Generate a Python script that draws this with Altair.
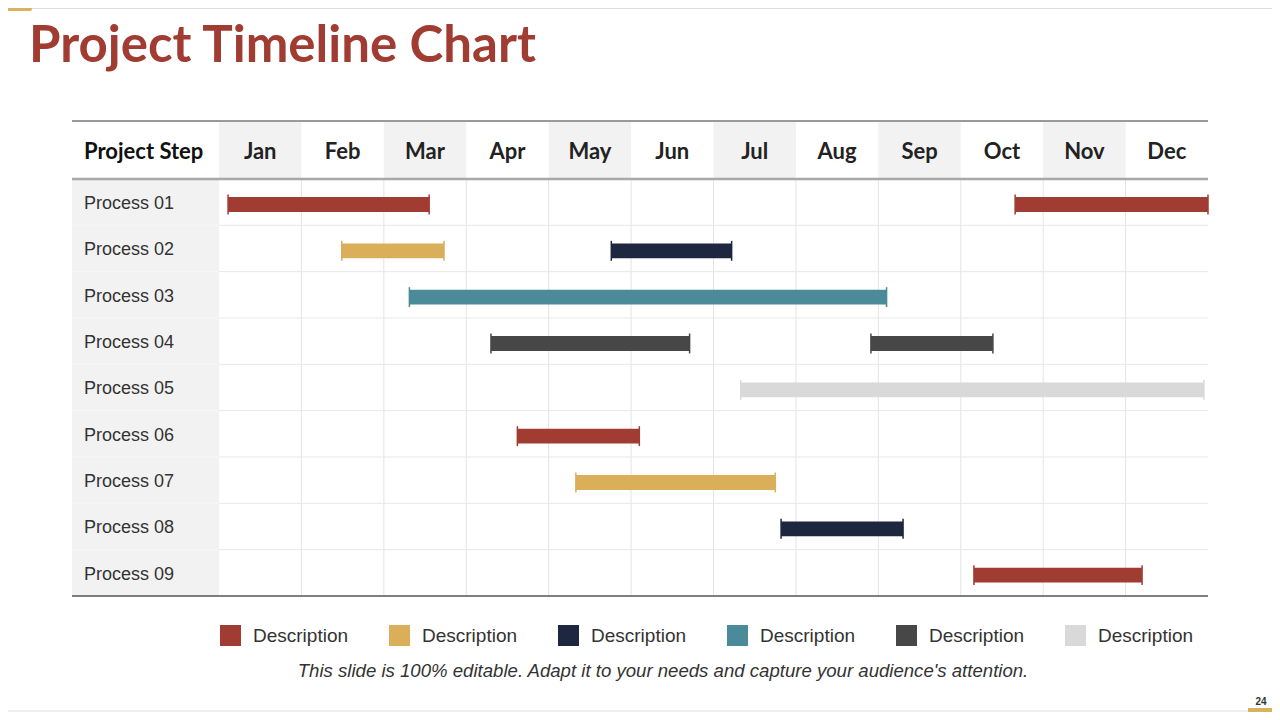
import altair as alt
import pandas as pd

# ---------------- data ----------------
months = ["Jan", "Feb", "Mar", "Apr", "May", "Jun",
          "Jul", "Aug", "Sep", "Oct", "Nov", "Dec"]
processes = ["Process 01", "Process 02", "Process 03", "Process 04", "Process 05",
             "Process 06", "Process 07", "Process 08", "Process 09"]

# task bars (month units, 0 = start of Jan, 12 = end of Dec)
task_process = [0, 0, 1, 1, 2, 3, 3, 4, 5, 6, 7, 8]
task_start = [0.11, 9.66, 1.49, 4.76, 2.31, 3.30, 7.91, 6.33, 3.62, 4.33, 6.82, 9.16]
task_end = [2.55, 12.0, 2.73, 6.22, 8.10, 5.71, 9.39, 11.95, 5.10, 6.75, 8.30, 11.20]
task_series = ["d1", "d1", "d2", "d3", "d4", "d5", "d5", "d6", "d1", "d2", "d3", "d1"]

series_keys = ["d1", "d2", "d3", "d4", "d5", "d6"]
series_labels = ["Description"] * 6
series_colors = ["#a03c31", "#dbae5a", "#1d2740", "#4b8a99", "#474747", "#d9d9d9"]

title_text = "Project Timeline Chart"
header_text = "Project Step"
caption_text = ("This slide is 100% editable. Adapt it to your needs and capture "
                "your audience's attention.")
page_number = "24"

# ---------------- layout ----------------
W, H = 1264, 704
X_DOM = [-2.5602, 12.7765]
Y_DOM = [-3.6906, 11.5036]
TABLE_LEFT = -1.784
HEADER_TOP = -1.252

xs = alt.Scale(domain=X_DOM, nice=False, zero=False)
ys = alt.Scale(domain=Y_DOM, nice=False, zero=False, reverse=True)

tasks = pd.DataFrame({
    "row": task_process,
    "start": task_start,
    "end": task_end,
    "series": task_series,
})
tasks["process"] = [processes[i] for i in task_process]
tasks["y0"] = tasks["row"] + 0.55 - 0.16
tasks["y1"] = tasks["row"] + 0.55 + 0.16
tasks["c0"] = tasks["row"] + 0.55 - 0.215
tasks["c1"] = tasks["row"] + 0.55 + 0.215

month_df = pd.DataFrame({"month": months, "i": list(range(12))})
month_df["mid"] = month_df["i"] + 0.5
month_df["x0"] = month_df["i"]
month_df["x1"] = month_df["i"] + 1
month_df["shade"] = month_df["i"] % 2 == 0

proc_df = pd.DataFrame({"process": processes, "r": list(range(len(processes)))})
proc_df["mid"] = proc_df["r"] + 0.5

X = lambda f: alt.X(f, type="quantitative", scale=xs, axis=None)
Y = lambda f: alt.Y(f, type="quantitative", scale=ys, axis=None)

one = alt.Data(values=[{"a": 0}])

# header shading (Jan, Mar, ...)
header_shade = alt.Chart(month_df).transform_filter("datum.shade").mark_rect(
    color="#f2f2f2").encode(
    x=X("x0"), x2="x1",
    y=Y("y0:Q"), y2="y1:Q",
).transform_calculate(y0=str(HEADER_TOP), y1="0")

# process column shading
proc_shade = alt.Chart(proc_df).mark_rect(color="#f2f2f2").encode(
    x=alt.X("xa:Q", scale=xs, axis=None), x2="xb:Q",
    y=Y("r"), y2="r2:Q",
).transform_calculate(xa=str(TABLE_LEFT), xb="0", r2="datum.r + 1")

# vertical grid lines (month boundaries)
vlines = alt.Chart(month_df).transform_filter("datum.i > 0").mark_rule(
    color="#e4e4e4", strokeWidth=1).encode(
    x=X("x0"), y=alt.Y("ya:Q", scale=ys, axis=None), y2="yb:Q",
).transform_calculate(ya="0", yb="9")

# horizontal row lines
hlines = alt.Chart(proc_df).transform_filter("datum.r > 0").mark_rule(
    color="#e8e8e8", strokeWidth=1).encode(
    y=Y("r"), x=alt.X("xa:Q", scale=xs, axis=None), x2="xb:Q",
).transform_calculate(xa="0", xb="12")

hlines_left = alt.Chart(proc_df).transform_filter("datum.r > 0").mark_rule(
    color="#f7f7f7", strokeWidth=1).encode(
    y=Y("r"), x=alt.X("xa:Q", scale=xs, axis=None), x2="xb:Q",
).transform_calculate(xa=str(TABLE_LEFT), xb="0")

# table border lines
borders = pd.DataFrame({"yv": [HEADER_TOP, 0.0, 9.0],
                        "col": ["#9a9a9a", "#a8a8a8", "#555555"],
                        "w": [2, 2.5, 1.5]})
border_layers = []
for _, b in borders.iterrows():
    border_layers.append(
        alt.Chart(one).mark_rule(color=b["col"], strokeWidth=float(b["w"])).encode(
            y=alt.Y("yv:Q", scale=ys, axis=None),
            x=alt.X("xa:Q", scale=xs, axis=None), x2="xb:Q",
        ).transform_calculate(yv=str(b["yv"]), xa=str(TABLE_LEFT), xb="12")
    )

color_enc = alt.Color(
    "series:N",
    scale=alt.Scale(domain=series_keys, range=series_colors),
    legend=alt.Legend(
        orient="none", legendX=212, legendY=617, direction="horizontal",
        columns=6, title=None, symbolType="square", symbolSize=441,
        symbolStrokeWidth=0, symbolOpacity=1, labelFont="Liberation Sans",
        labelFontSize=19, labelColor="#333333", labelOffset=12,
        columnPadding=40, labelExpr="'Description'", labelLimit=200,
    ),
)

bars = alt.Chart(tasks).mark_rect().encode(
    x=X("start"), x2="end", y=Y("y0"), y2="y1", color=color_enc,
)
caps_s = alt.Chart(tasks).mark_rule(strokeWidth=1.5).encode(
    x=X("start"), y=Y("c0"), y2="c1",
    color=alt.Color("series:N", scale=alt.Scale(domain=series_keys, range=series_colors), legend=None),
)
caps_e = alt.Chart(tasks).mark_rule(strokeWidth=1.5).encode(
    x=X("end"), y=Y("c0"), y2="c1",
    color=alt.Color("series:N", scale=alt.Scale(domain=series_keys, range=series_colors), legend=None),
)

# header labels
month_text = alt.Chart(month_df).mark_text(
    font="Lato", fontWeight="bold", fontSize=22, color="#222222",
    baseline="middle", align="center", dy=2).encode(
    x=X("mid"), y=alt.Y("yh:Q", scale=ys, axis=None), text="month:N",
).transform_calculate(yh=str(HEADER_TOP / 2))

head_text = alt.Chart(one).mark_text(
    font="Lato", fontWeight="bold", fontSize=22, color="#111111",
    baseline="middle", align="left", dy=2).encode(
    x=alt.X("xl:Q", scale=xs, axis=None), y=alt.Y("yh:Q", scale=ys, axis=None),
    text=alt.value(header_text),
).transform_calculate(xl="-1.638", yh=str(HEADER_TOP / 2))

proc_text = alt.Chart(proc_df).mark_text(
    font="Liberation Sans", fontSize=18, color="#333333",
    baseline="middle", align="left", dy=2).encode(
    x=alt.X("xl:Q", scale=xs, axis=None), y=Y("mid"), text="process:N",
).transform_calculate(xl="-1.638")

# slide decoration
title = alt.Chart(one).mark_text(
    font="Lato", fontWeight="bold", fontSize=51, color="#a03c31",
    baseline="alphabetic", align="left").encode(
    x=alt.value(21), y=alt.value(54), text=alt.value(title_text))

top_line = alt.Chart(one).mark_rule(color="#dddddd", strokeWidth=1).encode(
    x=alt.value(24), x2=alt.value(W), y=alt.value(0.5))
top_gold = alt.Chart(one).mark_rule(color="#d8b25e", strokeWidth=4, strokeCap="round").encode(
    x=alt.value(0), x2=alt.value(22), y=alt.value(1))

caption = alt.Chart(one).mark_text(
    font="Liberation Sans", fontStyle="italic", fontSize=18.6, color="#333333",
    baseline="middle", align="center").encode(
    x=alt.value(655), y=alt.value(663), text=alt.value(caption_text))

pnum = alt.Chart(one).mark_text(
    font="Liberation Sans", fontWeight="bold", fontSize=10, color="#333333",
    baseline="middle", align="center").encode(
    x=alt.value(1253), y=alt.value(694), text=alt.value(page_number))

bottom_line = alt.Chart(one).mark_rule(color="#dddddd", strokeWidth=1).encode(
    x=alt.value(0), x2=alt.value(W), y=alt.value(703))
bottom_gold = alt.Chart(one).mark_rule(color="#d8b25e", strokeWidth=4).encode(
    x=alt.value(1240), x2=alt.value(1268), y=alt.value(702))

chart = alt.layer(
    header_shade, proc_shade, vlines, hlines, hlines_left,
    *border_layers,
    bars, caps_s, caps_e,
    month_text, head_text, proc_text,
    title, top_line, top_gold, caption, pnum, bottom_line, bottom_gold,
).resolve_scale(color="shared").properties(
    width=W, height=H,
    autosize=alt.AutoSizeParams(type="none"),
    padding=0,
    background="white",
).configure_view(stroke=None)

chart.save("out.html", embed_options={"renderer": "svg", "actions": False})
